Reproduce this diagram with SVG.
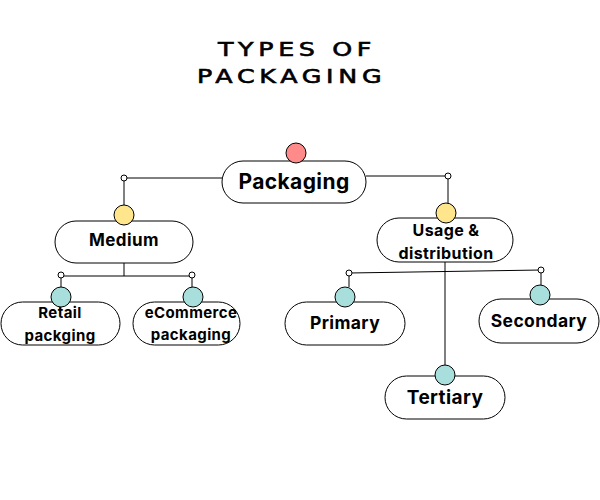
<svg xmlns="http://www.w3.org/2000/svg" width="600" height="500" viewBox="0 0 600 500">
<style>
.pill{fill:#fff;stroke:#000;stroke-width:1}
.lbl{font-family:Inter,"Noto Sans",sans-serif;font-weight:bold;fill:#000;text-anchor:middle;letter-spacing:0.4px}
.title{font-family:"DejaVu Sans",sans-serif;font-size:19.5px;fill:#000;stroke:#000;stroke-width:0.6px}
.ln{stroke:#000;stroke-width:1;fill:none}
.dot{fill:#fff;stroke:#000;stroke-width:1}
.red{fill:#ff8a8a;stroke:#000;stroke-width:1}
.yel{fill:#ffe68c;stroke:#000;stroke-width:1}
.teal{fill:#a8dfdc;stroke:#000;stroke-width:1}
</style>
<rect width="600" height="500" fill="#fff"/>
<text class="title" transform="translate(218,56) scale(1.3,1)" textLength="118" lengthAdjust="spacing">TYPES OF</text>
<text class="title" transform="translate(197,83) scale(1.3,1)" textLength="142" lengthAdjust="spacing">PACKAGING</text>
<g id="connectors">
<path class="ln" d="M222 178 H124 V205"/>
<path class="ln" d="M366 176 H448 V203"/>
<path class="ln" d="M124 263 V276 M61 276 H192 M61 276 V287 M192 276 V287"/>
<path class="ln" d="M445 262 V365 M349 273 L541 270 M349 273 V287 M541 270 V285"/>
<circle class="dot" cx="124" cy="178" r="3"/>
<circle class="dot" cx="448" cy="176" r="3"/>
<circle class="dot" cx="61" cy="275" r="3"/>
<circle class="dot" cx="192" cy="275" r="3"/>
<circle class="dot" cx="349" cy="273" r="3"/>
<circle class="dot" cx="541" cy="270" r="3"/>
</g>
<g id="packaging">
<rect class="pill" x="222" y="161" width="144" height="42" rx="21"/>
<circle class="red" cx="296" cy="153" r="10"/>
<text class="lbl" x="294" y="189" font-size="21">Packaging</text>
</g>
<g id="medium">
<rect class="pill" x="55" y="221" width="138" height="42" rx="21"/>
<circle class="yel" cx="124" cy="215" r="10"/>
<text class="lbl" x="124" y="246" font-size="17">Medium</text>
</g>
<g id="usage">
<rect class="pill" x="377" y="218" width="136" height="44" rx="22"/>
<circle class="yel" cx="446" cy="213" r="10"/>
<text class="lbl" x="446" y="236" font-size="16">Usage &amp;</text>
<text class="lbl" x="446" y="259" font-size="16">distribution</text>
</g>
<g id="retail">
<rect class="pill" x="1" y="302" width="119" height="43" rx="21.5"/>
<circle class="teal" cx="61" cy="297" r="10"/>
<text class="lbl" x="60" y="318" font-size="15">Retail</text>
<text class="lbl" x="60" y="341" font-size="15">packging</text>
</g>
<g id="ecommerce">
<rect class="pill" x="133" y="302" width="107" height="43" rx="21.5"/>
<circle class="teal" cx="193" cy="297" r="10"/>
<text class="lbl" x="191" y="318" font-size="15">eCommerce</text>
<text class="lbl" x="191" y="340" font-size="15">packaging</text>
</g>
<g id="primary">
<rect class="pill" x="285" y="302" width="120" height="43" rx="21.5"/>
<circle class="teal" cx="345" cy="297" r="10"/>
<text class="lbl" x="345" y="329" font-size="17.5">Primary</text>
</g>
<g id="secondary">
<rect class="pill" x="479" y="299" width="120" height="44" rx="22"/>
<circle class="teal" cx="540" cy="295" r="10"/>
<text class="lbl" x="539" y="327" font-size="17.5">Secondary</text>
</g>
<g id="tertiary">
<rect class="pill" x="385" y="376" width="120" height="43" rx="21.5"/>
<circle class="teal" cx="445" cy="375" r="10"/>
<text class="lbl" x="445" y="404" font-size="19">Tertiary</text>
</g>
</svg>
